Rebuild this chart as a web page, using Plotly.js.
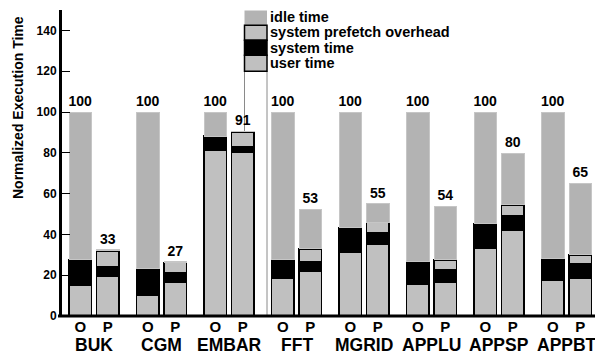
<!DOCTYPE html>
<html>
<head>
<meta charset="utf-8">
<script src="https://cdn.plot.ly/plotly-3.0.1.min.js"></script>
<style>html,body{margin:0;padding:0;background:#fff;}#chart{width:595px;height:356px;}</style>
</head>
<body>
<div id="chart"></div>
<script>
// ---- data ----
const benchmarks = ['BUK', 'CGM', 'EMBAR', 'FFT', 'MGRID', 'APPLU', 'APPSP', 'APPBT'];
const versions = ['O', 'P'];
// bar order: BUK O, BUK P, CGM O, CGM P, ...
const userTime         = [15.0, 19.7, 10.2, 16.8, 81.2, 80.5, 18.4, 21.8, 31.1, 35.1, 15.6, 16.6, 33.2, 42.1, 17.4, 18.4];
const systemTime       = [12.5,  4.4, 12.9,  4.4,  6.9,  2.6,  9.3,  5.0, 12.3,  5.6, 11.1,  6.0, 12.0,  7.0, 10.9,  7.2];
const prefetchOverhead = [null,  7.9, null,  5.0, null,  7.1, null,  6.1, null,  5.3, null,  4.9, null,  5.4, null,  4.4];
const idleTime         = [72.5,  0.5, 76.9,  0.4, 11.9,  0.3, 72.3, 19.5, 56.6,  9.0, 73.3, 26.2, 54.8, 25.3, 71.7, 35.0];
const totalLabels      = ['100', '33', '100', '27', '100', '91', '100', '53', '100', '55', '100', '54', '100', '80', '100', '65'];
const seriesNames = ['user time', 'system time', 'system prefetch overhead', 'idle time'];

// ---- layout geometry ----
const W = 595, H = 356;
const M = {l: 62, r: 0, t: 10, b: 40};
const PW = W - M.l - M.r, PH = H - M.t - M.b;
const UNIT = 22.5;                 // px per x unit
const XMAX = PW / UNIT;
const oPos = 0.813, pPos = 2.036, groupStep = 3;
const xs = [];
benchmarks.forEach((b, i) => { xs.push(oPos + groupStep * i); xs.push(pPos + groupStep * i); });
const ticktext = [];
benchmarks.forEach(() => versions.forEach(v => ticktext.push(v)));

const FONT = 'Liberation Sans, Arial, sans-serif';
const LIGHT = '#c0c0c0', IDLE = '#b3b3b3';
const px = x => (x - M.l) / PW;          // pixel -> paper
const py = y => (M.t + PH - y) / PH;

const common = {type: 'bar', x: xs, width: 1.0, hoverinfo: 'skip', showlegend: false};
const traces = [
  Object.assign({}, common, {name: seriesNames[0], y: userTime, marker: {color: LIGHT, line: {color: '#000', width: 1.6}}}),
  Object.assign({}, common, {name: seriesNames[1], y: systemTime, marker: {color: '#000', line: {color: '#000', width: 1.6}}}),
  Object.assign({}, common, {name: seriesNames[2], y: prefetchOverhead, marker: {color: LIGHT, line: {color: '#000', width: 1.6}}}),
  Object.assign({}, common, {name: seriesNames[3], y: idleTime, marker: {color: IDLE, line: {color: '#c6c6c6', width: 1}},
    text: totalLabels, textposition: 'outside', constraintext: 'none', cliponaxis: false,
    textfont: {family: FONT, size: 14, color: '#000', weight: 'bold'}})
];

const shapes = [];
const annotations = [];
// legend (manual)
const legendRows = [
  {name: seriesNames[3], y0: 10.5, y1: 25.3, fill: IDLE, line: 0, ty: 16.8},
  {name: seriesNames[2], y0: 25.3, y1: 40.3, fill: LIGHT, line: 1.5, ty: 32.2},
  {name: seriesNames[1], y0: 40.3, y1: 55.2, fill: '#000', line: 1.5, ty: 47.6},
  {name: seriesNames[0], y0: 55.2, y1: 71.3, fill: LIGHT, line: 1.5, ty: 62.8}
];
const LX0 = 244.5, LX1 = 267;
// thin box below the legend down to the axis
shapes.push({type: 'rect', xref: 'paper', yref: 'paper', layer: 'below', x0: px(LX0), x1: px(LX1), y0: py(316), y1: py(71.3),
  line: {color: '#8a8a8a', width: 1}, fillcolor: 'rgba(0,0,0,0)'});
legendRows.forEach(r => {
  shapes.push({type: 'rect', xref: 'paper', yref: 'paper', layer: 'above', x0: px(LX0), x1: px(LX1), y0: py(r.y1), y1: py(r.y0),
    fillcolor: r.fill, line: {color: '#000', width: r.line}});
  annotations.push({xref: 'paper', yref: 'paper', x: px(267.5), y: py(r.ty), xanchor: 'left', yanchor: 'middle', showarrow: false,
    text: r.name, font: {family: FONT, size: 14.5, color: '#000', weight: 'bold'}});
});
// x axis line
shapes.push({type: 'line', xref: 'paper', yref: 'paper', layer: 'above', x0: px(58), x1: 1, y0: 0, y1: 0, line: {color: '#000', width: 3}});
// group labels
benchmarks.forEach((b, i) => {
  annotations.push({xref: 'x', yref: 'paper', x: (xs[2 * i] + xs[2 * i + 1]) / 2, y: py(355.5), xanchor: 'center', yanchor: 'bottom',
    showarrow: false, text: b, borderpad: 0, font: {family: FONT, size: 17.5, color: '#000', weight: 'bold'}});
});
// y title
annotations.push({xref: 'paper', yref: 'paper', x: px(18), y: py(108), textangle: -90, showarrow: false, xanchor: 'center', yanchor: 'middle',
  text: 'Normalized Execution Time', font: {family: FONT, size: 14, color: '#000', weight: 'bold'}});

const layout = {
  width: W, height: H, margin: M, paper_bgcolor: '#fff', plot_bgcolor: '#fff',
  barmode: 'stack', showlegend: false,
  font: {family: FONT, color: '#000'},
  xaxis: {range: [0, XMAX], tickvals: xs, ticktext: ticktext, ticks: '', showgrid: false, zeroline: false, showline: false,
    tickfont: {family: FONT, size: 15, color: '#000', weight: 'bold'}, fixedrange: true},
  yaxis: {range: [0, PH / 2.04], tickvals: [0, 20, 40, 60, 80, 100, 120, 140], ticks: 'inside', ticklen: 8, tickwidth: 1, tickcolor: '#000',
    showline: true, linewidth: 3, linecolor: '#000', showgrid: false, zeroline: false,
    tickfont: {family: FONT, size: 12, color: '#000', weight: 'bold'}, fixedrange: true},
  shapes: shapes, annotations: annotations
};
Plotly.newPlot('chart', traces, layout, {displayModeBar: false, staticPlot: true});
</script>
</body>
</html>
